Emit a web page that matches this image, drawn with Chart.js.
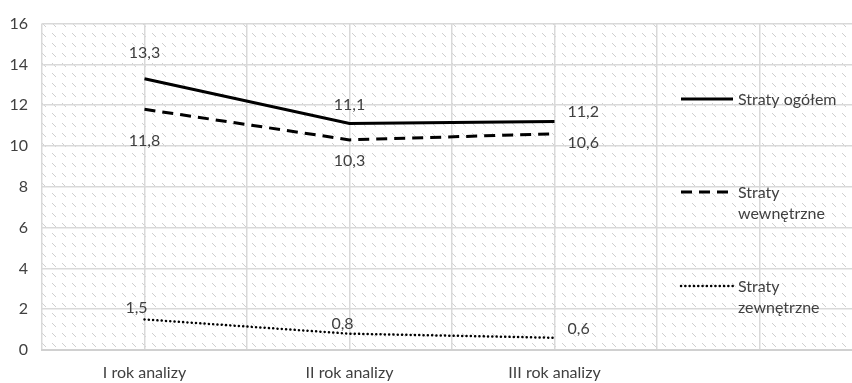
<!DOCTYPE html>
<html>
<head>
<meta charset="utf-8">
<script src="https://cdn.jsdelivr.net/npm/chart.js@4"></script>
<style>
  html, body { margin: 0; padding: 0; background: #fff; }
  #wrap { width: 852px; height: 383px; }
</style>
</head>
<body>
<div id="wrap"><canvas id="lossChart" width="852" height="383"></canvas></div>
<script>
// data
const years = ['I rok analizy', 'II rok analizy', 'III rok analizy'];
const seriesNames = ['Straty ogółem', 'Straty wewnętrzne', 'Straty zewnętrzne'];
const totalLoss = [13.3, 11.1, 11.2];
const internalLoss = [11.8, 10.3, 10.6];
const externalLoss = [1.5, 0.8, 0.6];
const yTicks = [0, 2, 4, 6, 8, 10, 12, 14, 16];

// label offset from each point, [dx, dy, align]
const labelPlace = [
  [[0, -26, 'center'], [0, -19, 'center'], [13, -10, 'left']],
  [[0, 32, 'center'], [0, 21, 'center'], [13, 9, 'left']],
  [[-8, -12, 'center'], [-7, -10, 'center'], [13, -9, 'left']]
];

const fontFamily = 'Lato, "Noto Sans", sans-serif';
const fontSize = 16;
const textColor = '#404040';
const gridColor = '#d9d9d9';

function toPoints(vals) {
  return vals.map((v, i) => ({ x: i, y: v }));
}

// diagonal hatch in the plot background
const hatchPlugin = {
  id: 'hatch',
  beforeDraw(chart) {
    const { ctx, chartArea } = chart;
    const tile = document.createElement('canvas');
    tile.width = 10; tile.height = 10;
    const t = tile.getContext('2d');
    t.strokeStyle = '#cfcfcf';
    t.lineWidth = 1;
    t.beginPath();
    t.moveTo(2, 3); t.lineTo(6, 7);
    t.stroke();
    ctx.save();
    ctx.fillStyle = ctx.createPattern(tile, 'repeat');
    ctx.fillRect(chartArea.left, chartArea.top, chartArea.right - chartArea.left, chartArea.bottom - chartArea.top);
    ctx.restore();
  }
};

// value labels next to every point
const valueLabels = {
  id: 'valueLabels',
  afterDatasetsDraw(chart) {
    const ctx = chart.ctx;
    ctx.save();
    ctx.font = fontSize + 'px ' + fontFamily;
    ctx.fillStyle = textColor;
    ctx.textBaseline = 'middle';
    chart.data.datasets.forEach((ds, di) => {
      chart.getDatasetMeta(di).data.forEach((pt, i) => {
        const txt = ds.data[i].y.toFixed(1).replace('.', ',');
        const [dx, dy, align] = labelPlace[di][i];
        ctx.textAlign = align;
        ctx.fillText(txt, pt.x + dx, pt.y + dy);
      });
    });
    ctx.restore();
  }
};

// legend drawn inside the plot, on the right
const sideLegend = {
  id: 'sideLegend',
  afterDraw(chart) {
    const ctx = chart.ctx;
    const rows = [
      { lines: ['Straty ogółem'], y: 99 },
      { lines: ['Straty', 'wewnętrzne'], y: 192 },
      { lines: ['Straty', 'zewnętrzne'], y: 286 }
    ];
    ctx.save();
    ctx.font = fontSize + 'px ' + fontFamily;
    ctx.fillStyle = textColor;
    ctx.textBaseline = 'middle';
    ctx.textAlign = 'left';
    rows.forEach((r, i) => {
      const ds = chart.data.datasets[i];
      ctx.strokeStyle = ds.borderColor;
      ctx.lineWidth = ds.borderWidth;
      ctx.lineCap = ds.borderCapStyle || 'butt';
      ctx.setLineDash(ds.borderDash || []);
      ctx.beginPath();
      ctx.moveTo(681, r.y);
      ctx.lineTo(733, r.y);
      ctx.stroke();
      r.lines.forEach((l, k) => ctx.fillText(l, 738, r.y + 1 + k * 21));
    });
    ctx.restore();
  }
};

new Chart(document.getElementById('lossChart'), {
  type: 'line',
  data: {
    datasets: [{
      label: seriesNames[0],
      data: toPoints(totalLoss),
      borderColor: '#000',
      borderWidth: 3,
      pointRadius: 0
    }, {
      label: seriesNames[1],
      data: toPoints(internalLoss),
      borderColor: '#000',
      borderWidth: 3,
      borderDash: [11, 7],
      pointRadius: 0
    }, {
      label: seriesNames[2],
      data: toPoints(externalLoss),
      borderColor: '#000',
      borderWidth: 2.5,
      borderDash: [0.1, 4.2],
      borderCapStyle: 'round',
      pointRadius: 0
    }]
  },
  options: {
    responsive: false,
    animation: false,
    layout: { padding: { top: 17, right: 0, left: 0, bottom: 0 } },
    plugins: { legend: { display: false }, tooltip: { enabled: false } },
    scales: {
      x: {
        type: 'linear',
        min: -0.5,
        max: -0.5 + 810 / 205,
        afterBuildTicks(scale) {
          const t = [];
          for (let v = -0.5; v <= scale.max + 1e-6; v += 0.5) t.push({ value: v });
          scale.ticks = t;
        },
        afterFit(scale) { scale.height = 33; },
        grid: { color: gridColor, lineWidth: 1.5, drawTicks: false },
        border: { display: true, color: '#d0d0d0', width: 2 },
        ticks: {
          autoSkip: false,
          maxRotation: 0,
          padding: 13,
          color: textColor,
          font: { family: fontFamily, size: fontSize },
          callback: (v) => Number.isInteger(v) && years[v] ? years[v] : ''
        }
      },
      y: {
        min: 0,
        max: 16,
        afterBuildTicks(scale) { scale.ticks = yTicks.map(v => ({ value: v })); },
        afterFit(scale) { scale.width = 42; },
        grid: { color: gridColor, lineWidth: 1.5, drawTicks: false },
        border: { display: false },
        ticks: {
          padding: 14,
          color: textColor,
          font: { family: fontFamily, size: fontSize }
        }
      }
    }
  },
  plugins: [hatchPlugin, valueLabels, sideLegend]
});
</script>
</body>
</html>
